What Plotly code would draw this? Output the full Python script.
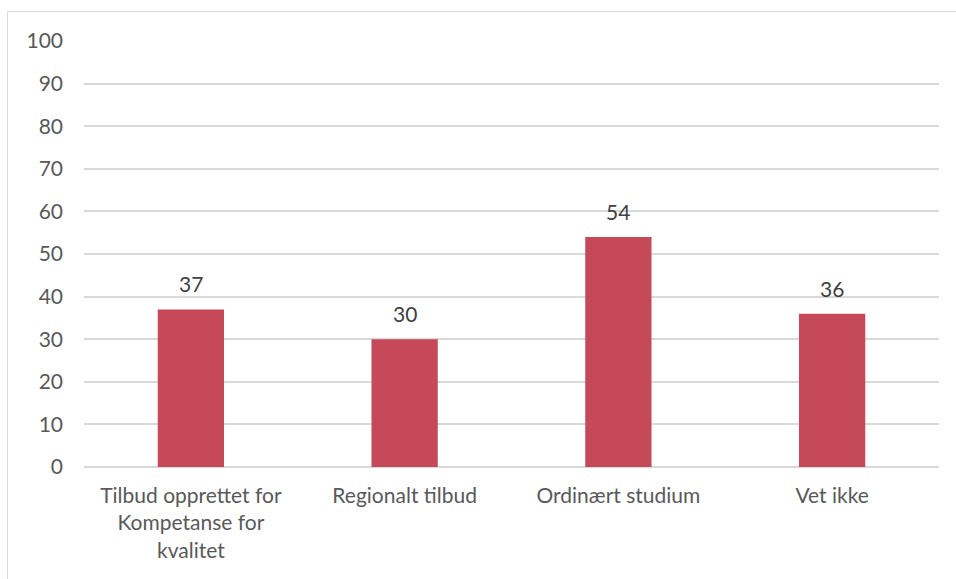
import plotly.graph_objects as go

categories = [
    "Tilbud opprettet for<br>Kompetanse for<br>kvalitet",
    "Regionalt tilbud",
    "Ordinært studium",
    "Vet ikke",
]
values = [37, 30, 54, 36]
y_ticks = list(range(0, 101, 10))

BAR_COLOR = "#C6495A"
TEXT_COLOR = "#595959"
GRID_COLOR = "#D9D9D9"
FONT = "Lato, 'Open Sans', sans-serif"
FONT_SIZE = 21

fig = go.Figure(
    go.Bar(
        x=categories,
        y=values,
        marker=dict(color=BAR_COLOR, line=dict(width=0)),
        hoverinfo="skip",
    )
)

# value labels above each bar
for cat, val in zip(categories, values):
    fig.add_annotation(
        x=cat, y=val, text=str(val), showarrow=False,
        yanchor="bottom", yshift=11,
        font=dict(family=FONT, size=FONT_SIZE, color="#404040"),
    )

# thin frame around the chart area
fig.add_shape(
    type="rect", xref="paper", yref="paper",
    x0=-0.0895, x1=1.2, y0=-0.3, y1=1.069,
    line=dict(color=GRID_COLOR, width=1),
)

fig.update_layout(
    width=956, height=579,
    margin=dict(l=84, r=17, t=41, b=112),
    paper_bgcolor="white",
    plot_bgcolor="white",
    bargap=0.69,
    showlegend=False,
    font=dict(family=FONT, size=FONT_SIZE, color=TEXT_COLOR),
    xaxis=dict(
        showgrid=False, showline=False, zeroline=False,
        ticks="", ticklabelstandoff=14,
        tickfont=dict(size=FONT_SIZE, color=TEXT_COLOR),
    ),
    yaxis=dict(
        range=[0, 100], tickvals=y_ticks,
        showgrid=True, gridcolor=GRID_COLOR, gridwidth=1.5,
        zeroline=True, zerolinecolor=GRID_COLOR, zerolinewidth=1.5,
        showline=False, ticks="", ticklabelstandoff=20,
        tickfont=dict(size=FONT_SIZE, color=TEXT_COLOR),
    ),
)

fig.write_html("out.html")
